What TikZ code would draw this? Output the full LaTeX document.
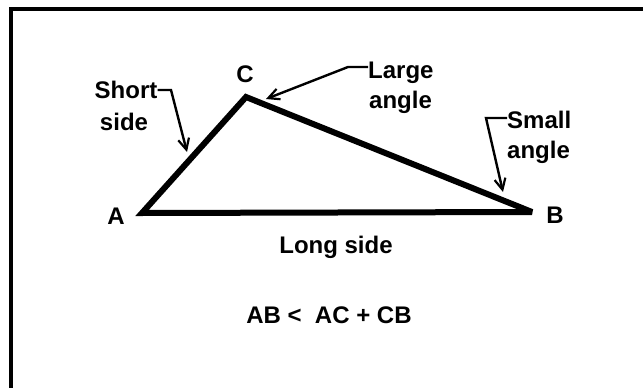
\documentclass[tikz,border=0pt]{standalone}
\usepackage{fontspec}
\setmainfont{Liberation Sans}
\usetikzlibrary{arrows.meta}
\begin{document}
\begin{tikzpicture}[x=1pt,y=-1pt,
  lbl/.style={inner sep=0pt, font=\bfseries\fontsize{24}{30}\selectfont},
  tri/.style={line width=6pt, line join=miter, miter limit=3},
  leader/.style={line width=2.4pt, -{Straight Barb[length=11pt,width=11pt,line width=2.2pt]}},
  frame/.style={line width=4pt}]
\useasboundingbox (0,0) rectangle (643,388);
\draw[frame] (643,8.5) -- (11,8.5) -- (11,388);
% triangle vertices
\coordinate (vA) at (142,213);
\coordinate (vB) at (532,212);
\coordinate (vC) at (246,97);
\draw[tri] (vA) -- (vC) -- (vB) -- cycle;
% vertex labels
\node[lbl, anchor=base] (A) at (116,224) {A};
\node[lbl, anchor=base] (B) at (555,223) {B};
\node[lbl, anchor=base] (C) at (245,82) {C};
% side / angle labels
\node[lbl, anchor=base] (short1) at (126,98) {Short};
\node[lbl, anchor=base] (short2) at (124,130) {side};
\node[lbl, anchor=base west] (large1) at (368,78) {Large};
\node[lbl, anchor=base west] (large2) at (369,108) {angle};
\node[lbl, anchor=base west] (small1) at (507,128) {Small};
\node[lbl, anchor=base west] (small2) at (507,158) {angle};
\node[lbl, anchor=base] (long) at (336,253) {Long side};
\node[lbl, anchor=base] (ineq) at (329,323) {AB <\ \ AC + CB};
% leaders
\coordinate (sC) at (171,90);
\coordinate (sT) at (187,152);
\draw[leader] (short1.east |- sC) -- (sC) -- (sT);
\coordinate (lC) at (348,67);
\coordinate (lT) at (266,99);
\draw[leader] (large1.west |- lC) -- (lC) -- (lT);
\coordinate (mC) at (486,118);
\coordinate (mT) at (503,192);
\draw[leader] (small1.west |- mC) -- (mC) -- (mT);
\end{tikzpicture}
\end{document}
